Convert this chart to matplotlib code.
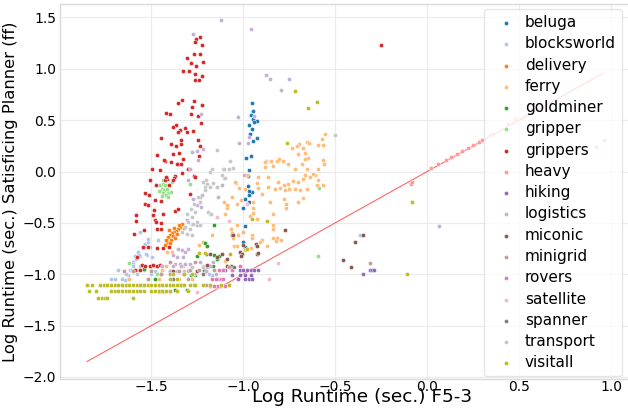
import matplotlib
matplotlib.use("Agg")
import matplotlib.pyplot as plt

domains = ["beluga", "blocksworld", "delivery", "ferry", "goldminer", "gripper",
           "grippers", "heavy", "hiking", "logistics", "miconic", "minigrid",
           "rovers", "satellite", "spanner", "transport", "visitall"]
colors = ["#1f77b4", "#aec7e8", "#ff7f0e", "#ffbb78", "#2ca02c", "#98df8a",
          "#d62728", "#ff9896", "#9467bd", "#c5b0d5", "#8c564b", "#c49c94",
          "#e377c2", "#f7b6d2", "#7f7f7f", "#c7c7c7", "#bcbd22"]

beluga_x = [-0.951, -0.946, -0.957, -0.946, -0.924, -0.940, -0.967, -0.951, -0.962, -0.924, -0.946,
            -0.957, -0.984, -0.967, -0.973, -0.973, -0.951, -0.967, -0.967, -0.989, -0.967, -1.000,
            -0.989, -1.000, -1.000, -0.989]
beluga_y = [0.667, 0.588, 0.549, 0.510, 0.490, 0.480, 0.451, 0.412, 0.363, 0.324, 0.294,
            0.147, 0.127, 0.010, -0.039, -0.137, -0.196, -0.186, -0.225, -0.265, -0.294, -0.353,
            -0.529, -0.588, -0.686, -0.735]

blocksworld_x = [-1.560, -1.533, -1.543, -1.571, -1.587, -1.560, -1.522, -1.495, -1.505, -1.516,
                 -1.527, -1.565, -1.582, -1.598, -1.598, -1.614, -1.603, -1.625, -1.652, -1.625,
                 -1.641, -1.516, -1.462, -0.364, -1.168, -1.185,
                 -1.70, -1.66, -1.62, -1.58, -1.64, -1.54, -1.48, -1.66, -1.72, -1.68,
                 -1.60, -1.56, -1.50, -1.45, -1.74, -1.52]
blocksworld_y = [-0.588, -0.706, -0.745, -0.784, -0.824, -0.824, -0.814, -0.833, -0.735, -0.686,
                 -0.804, -0.814, -0.853, -0.882, -0.902, -0.961, -0.961, -1.010, -1.049, -1.049,
                 -1.059, -0.657, -0.667, -0.618, -1.010, -1.000,
                 -1.05, -1.05, -1.05, -1.00, -1.00, -0.96, -0.97, -1.10, -1.05, -0.96,
                 -0.92, -0.92, -1.00, -0.92, -1.10, -1.05]

delivery_x = [-1.332, -1.342, -1.353, -1.364, -1.375, -1.386, -1.359, -1.397, -1.380, -1.408,
              -1.370, -1.391, -1.413, -1.397, -1.424, -1.348, -1.321, -1.402, -1.418, -1.375]
delivery_y = [-0.510, -0.539, -0.559, -0.578, -0.588, -0.598, -0.608, -0.618, -0.627, -0.637,
              -0.647, -0.667, -0.686, -0.696, -0.716, -0.520, -0.549, -0.569, -0.667, -0.549]

ferry_x = [-0.554, -0.571, -0.592, -0.565, -0.652, -0.641, -0.696, -0.707, -0.734, -0.674,
           -0.663, -0.701, -0.815, -0.804, -0.848, -0.875, -0.837, -0.783, -0.755, -0.679,
           -0.647, -0.663, -0.565, -0.560, -0.652, -0.592, -0.609, -0.636, -0.663, -0.674,
           -0.701, -0.728, -0.755, -0.777, -0.810, -0.864, -0.918, -0.924, -0.978, -1.038,
           -1.022, -0.989, -0.918, -0.864, -0.826, -0.799, -0.772, -0.750, -0.717, -0.690,
           -0.652, -0.592, -0.565, -0.598, -0.853, -0.766, -0.766, -0.946, -0.946, -0.946,
           -1.033, -1.011, -1.060, -1.103, -1.087, -0.924, -0.962, -0.837, -0.837, -0.837,
           -0.674, -1.065, -1.060, -1.054, -1.027, -1.000, -0.951, -0.951, -0.897, -0.908,
           -0.837, -0.815, -0.793, -0.821, -0.870, -0.929, -0.957, -1.049, -1.033, -1.168,
           -1.011, -0.989, -0.880, -1.043, -1.087, -1.098, -1.033, -1.217, -1.239, -1.201,
           -1.413, -1.386,
           -1.50, -1.44, -1.30, -1.20, -1.10, -1.62, -1.35, -1.28, -1.46, -1.52, -1.42, -1.33,
           -0.90, -0.72, -0.62, -0.78, -0.88, -0.70]
ferry_y = [0.363, 0.314, 0.255, 0.255, 0.284, 0.275, 0.265, 0.245, 0.225, 0.225,
           0.176, 0.167, 0.098, 0.118, 0.098, 0.098, 0.049, 0.098, 0.069, 0.069,
           0.127, 0.118, 0.108, 0.069, 0.020, 0.020, -0.029, -0.049, -0.029, -0.069,
           -0.098, -0.088, -0.118, -0.127, -0.098, -0.049, -0.049, -0.108, -0.029, -0.108,
           -0.157, -0.167, -0.157, -0.147, -0.167, -0.157, -0.176, -0.167, -0.167, -0.176,
           -0.167, -0.078, -0.127, -0.127, -0.294, -0.314, -0.353, -0.294, -0.353, -0.402,
           -0.314, -0.275, -0.245, -0.294, -0.353, -0.461, -0.431, -0.412, -0.520, -0.559,
           -0.255, -0.559, -0.598, -0.647, -0.618, -0.588, -0.618, -0.647, -0.667, -0.686,
           -0.647, -0.647, -0.667, -0.676, -0.725, -0.716, -0.745, -0.725, -0.725, -0.618,
           -0.804, -0.765, 0.088, -0.098, -0.324, -0.412, -0.520, -0.686, -0.716, -0.725,
           -0.784, -0.784,
           -0.96, -0.96, -0.96, -0.92, -0.87, -1.05, -1.05, -1.05, -1.05, -1.10, -0.92, -0.92,
           -0.22, 0.02, -0.02, -0.27, 0.04, -0.30]

goldminer_x = [-1.158, -1.207, -1.196, -1.250, -1.201, -1.158, -1.130, -1.185, -1.163, -1.283,
               -1.261, -1.266, -1.370, -1.342, -1.304, -1.212, -1.141, -1.54, -1.48, -1.40]
goldminer_y = [-0.520, -0.696, -0.725, -0.824, -0.804, -0.814, -0.824, -0.922, -0.922, -1.010,
               -1.010, -1.108, -1.157, -1.108, -1.157, -0.961, -0.853, -0.95, -1.05, -0.97]

gripper_x = [-1.451, -1.435, -1.424, -1.440, -1.429, -1.413, -1.457, -1.435, -1.408, -1.391,
             -1.418, -1.440, -1.408, -1.386, -1.435, -1.288, -0.587, -0.592, -1.62, -1.58, -1.47]
gripper_y = [-0.127, -0.118, -0.127, -0.167, -0.176, -0.167, -0.186, -0.206, -0.206, -0.196,
             -0.225, -0.235, -0.245, -0.098, -0.078, -0.118, -0.157, -0.824, -0.89, -0.96, -1.00]

grippers_x = [-1.234, -1.255, -1.261, -1.223, -1.266, -1.234, -1.304, -1.283, -1.217, -1.255,
              -1.326, -1.293, -1.261, -1.223, -1.261, -1.239, -1.332, -1.353, -1.266, -1.223,
              -1.277, -1.418, -1.397, -1.283, -1.245, -1.228, -1.364, -1.380, -1.342, -1.315,
              -1.272, -1.353, -1.304, -1.446, -1.337, -1.245, -1.391, -1.364, -1.234, -1.348,
              -1.467, -1.380, -1.239, -1.326, -1.424, -1.391, -1.353, -1.337, -1.293, -1.495,
              -1.451, -1.332, -1.266, -1.370, -1.375, -1.413, -1.424, -1.505,
              -1.337, -1.429, -1.359, -1.299, -1.418, -1.261, -1.380, -1.473, -1.402, -1.288,
              -1.533, -1.511, -1.478, -1.446, -1.533, -1.516, -1.484, -1.489, -1.435, -1.370,
              -1.353, -1.582, -1.582, -1.478, -1.473, -1.446, -1.467, -1.446, -1.592, -1.538,
              -1.543, -1.516, -1.467, -1.435, -1.402, -1.576, -1.549, -1.533, -1.505, -1.489,
              -1.467, -1.451, -1.587, -1.560, -0.250]
grippers_y = [1.314, 1.294, 1.265, 1.235, 1.147, 1.147, 1.108, 1.059, 1.069, 1.029,
              0.980, 0.980, 0.951, 0.931, 0.892, 0.892, 0.696, 0.667, 0.686, 0.647,
              0.627, 0.569, 0.559, 0.559, 0.539, 0.471, 0.451, 0.431, 0.402, 0.422,
              0.392, 0.382, 0.382, 0.324, 0.304, 0.304, 0.265, 0.245, 0.245, 0.176,
              0.157, 0.167, 0.147, 0.118, 0.098, 0.088, 0.078, 0.069, 0.029, 0.020,
              0.010, -0.010, -0.039, -0.039, -0.059, -0.069, -0.078, -0.078,
              0.265, 0.108, 0.069, 0.029, -0.049, -0.049, -0.078, -0.127, -0.127, -0.216,
              -0.206, -0.225, -0.275, -0.284, -0.314, -0.324, -0.373, -0.422, -0.412, -0.382,
              -0.363, -0.422, -0.480, -0.471, -0.490, -0.500, -0.559, -0.559, -0.608, -0.569,
              -0.735, -0.735, -0.745, -0.745, -0.735, -0.833, -0.912, -0.922, -0.922, -0.912,
              -0.922, -0.912, -0.961, -0.961, 1.235]

heavy_x = [-0.09, -0.08, 0.02, 0.06, 0.10, 0.13, 0.16, 0.19, 0.22, 0.25, 0.28, 0.30, 0.34, 0.36,
           0.44, 0.48, 0.92, 0.96]
heavy_y = [-0.12, -0.10, 0.03, 0.07, 0.11, 0.14, 0.17, 0.20, 0.23, 0.26, 0.29, 0.31, 0.36, 0.37,
           0.46, 0.51, 0.24, 0.31]

hiking_x = [-1.02, -1.00, -0.98, -0.96, -0.94, -0.92, -1.02, -0.99, -0.96, -1.03, -0.99, -0.97,
            -0.95, -0.35, -0.31, -0.30, -0.29, -1.10, -1.06]
hiking_y = [-0.96, -0.96, -0.96, -0.96, -0.96, -0.96, -1.01, -1.01, -1.01, -1.05, -1.05, -1.05,
            -1.05, -1.00, -0.96, -0.96, -0.96, -0.96, -1.01]

logistics_x = [-1.120, -0.957, -1.272, -0.875, -0.853, -0.750, -0.793, -1.027, -0.940, -1.228,
               -0.967, -1.022, -0.973, -1.277, -1.217, -1.250, -1.245, -1.109, -1.103, -0.995,
               -1.299, -1.288, -1.136, -1.179, -1.228, -1.223, -1.272, -1.234, -1.250, -1.304,
               -1.277, -1.250, -1.353, -1.332, -1.315, -1.299, -1.380, -1.359, -1.326, -1.397,
               -1.370, -1.342, -1.315, -1.288, -1.234, -1.196, -1.163, -1.114, -1.141, 0.065,
               -1.40, -1.36, -1.30, -1.25, -1.20, -1.33, -1.27, -1.15,
               -1.44, -1.38, -1.34, -1.22, -1.18]
logistics_y = [1.471, 1.392, 1.343, 0.941, 0.902, 0.902, 0.794, 0.529, 0.539, 0.559,
               0.333, 0.275, 0.275, 0.186, 0.216, 0.196, 0.108, 0.029, -0.059, -0.029,
               -0.078, 0.020, -0.245, -0.412, -0.343, -0.225, -0.265, -0.245, -0.324, -0.471,
               -0.510, -0.520, -0.755, -0.765, -0.784, -0.755, -0.814, -0.833, -0.833, -0.882,
               -0.902, -0.902, -0.902, -0.902, -0.882, -0.931, -0.882, -0.127, -0.147, -0.529,
               -0.97, -0.97, -0.97, -0.97, -0.97, -1.00, -1.00, -1.00,
               -0.92, -0.92, -0.92, -0.92, -0.92]

miconic_x = [-0.772, -0.929, -0.924, -0.924, -0.348, -0.391, -0.457, -0.413, -1.060, -1.016,
             -1.005, -0.918, -1.141, -1.087, -1.065, -1.000, -1.011, -1.114, -1.087, -1.196,
             -1.054, -1.179, -1.45, -1.38, -1.32, -1.25]
miconic_y = [-0.569, -0.706, -0.725, -0.804, -0.618, -0.686, -0.863, -0.931, -0.618, -0.784,
             -0.804, -0.794, -0.833, -0.922, -0.922, -0.716, -0.824, -0.804, -0.853, -0.912,
             -0.618, -0.804, -1.00, -0.97, -1.00, -0.97]

minigrid_x = [-1.65, -1.60, -1.50, -1.45, -1.40, -1.35, -1.29, -1.24, -1.16, -1.11,
              -1.08, -1.17, -1.14, -1.30, -1.55, -1.52, -1.20, -0.31, -1.40, -1.26]
minigrid_y = [-0.97, -0.97, -0.97, -1.00, -1.00, -0.97, -0.96, -0.96, -0.96, -0.96,
              -0.93, -1.05, -1.05, -1.05, -1.10, -1.05, -1.10, -0.89, -0.88, -0.88]

rovers_x = [-1.02, -1.06, -1.11, -1.13, -1.17, -1.15, -1.12, -1.11, -1.18, -1.16, -1.14, -1.12, -1.10]
rovers_y = [-0.92, -0.96, -0.96, -0.96, -1.05, -1.05, -1.05, -1.05, -1.11, -1.11, -1.11, -1.11, -1.11]

satellite_x = [-0.978, -0.81, -0.86, -1.076, -1.141, -1.46, -1.43, -1.40, -1.25]
satellite_y = [-0.314, -0.89, -1.05, -0.480, -0.441, -1.17, -1.17, -1.17, -1.17]

spanner_x = [-1.38, -1.33, -1.22, -1.05]
spanner_y = [-1.05, -1.10, -1.00, -0.93]

transport_x = [-0.500, -1.141, -1.071, -1.054, -1.076, -1.103, -1.168, -1.179, -1.114, -1.098,
               -1.201, -1.163, -1.207, -1.141, -1.196, -1.217, -1.179, -1.207, -1.245, -1.234,
               -1.266, -1.283, -1.261, -1.304, -1.277, -1.299, -1.272, -1.315, -1.288, -1.250,
               -1.234, -1.332, -1.304, -1.277, -1.190, -1.174, -1.28, -1.22, -1.32]
transport_y = [0.353, 0.206, 0.098, 0.039, 0.020, 0.029, 0.029, 0.000, -0.029, -0.059,
               -0.078, -0.108, -0.147, -0.147, -0.118, -0.098, -0.147, -0.176, -0.245, -0.294,
               -0.314, -0.363, -0.392, -0.412, -0.441, -0.490, -0.510, -0.539, -0.559, -0.490,
               -0.520, -0.588, -0.608, -0.618, -0.392, -0.412, -0.93, -0.93, -0.97]

visitall_x = [-1.85, -1.82, -1.78, -1.76, -1.74, -1.72, -1.70, -1.68, -1.66, -1.64, -1.62, -1.60,
              -1.58, -1.56, -1.54, -1.52, -1.50, -1.48, -1.46, -1.44, -1.42, -1.40, -1.38, -1.36,
              -1.34, -1.32, -1.29, -1.26, -1.22, -1.18, -1.12, -1.08,
              -1.84, -1.80, -1.72, -1.70, -1.68, -1.66, -1.64, -1.62, -1.60, -1.58, -1.56, -1.54,
              -1.50, -1.48, -1.46, -1.44, -1.42, -1.40, -1.36, -1.30,
              -1.79, -1.77, -1.75, -1.74, -1.60,
              -1.40, -1.36, -1.32, -1.28, -1.38, -1.24, -1.21, -1.07, -0.72, -0.60, -0.65, -0.76,
              -0.87, -0.95, -0.98, -0.08, -0.11]
visitall_y = [-1.10, -1.10, -1.10, -1.10, -1.10, -1.10, -1.10, -1.10, -1.10, -1.10, -1.10, -1.10,
              -1.10, -1.10, -1.10, -1.10, -1.10, -1.10, -1.10, -1.10, -1.10, -1.10, -1.10, -1.10,
              -1.10, -1.10, -1.10, -1.10, -1.10, -1.10, -1.10, -1.10,
              -1.16, -1.16, -1.16, -1.16, -1.16, -1.16, -1.16, -1.16, -1.16, -1.16, -1.16, -1.16,
              -1.16, -1.16, -1.16, -1.16, -1.16, -1.16, -1.16, -1.16,
              -1.23, -1.23, -1.23, -1.23, -1.23,
              -1.05, -1.05, -1.00, -1.00, -1.00, -0.79, -0.79, -0.80, 0.78, 0.68, 0.62, 0.28,
              -0.48, -0.46, -0.75, -0.30, -1.00]

series_x = [beluga_x, blocksworld_x, delivery_x, ferry_x, goldminer_x, gripper_x, grippers_x,
            heavy_x, hiking_x, logistics_x, miconic_x, minigrid_x, rovers_x, satellite_x,
            spanner_x, transport_x, visitall_x]
series_y = [beluga_y, blocksworld_y, delivery_y, ferry_y, goldminer_y, gripper_y, grippers_y,
            heavy_y, hiking_y, logistics_y, miconic_y, minigrid_y, rovers_y, satellite_y,
            spanner_y, transport_y, visitall_y]

fig = plt.figure(figsize=(6.28, 4.08), dpi=100)
# axes extends a little past the right edge of the figure, as in the reference
ax = fig.add_axes([0.096, 0.071, 0.962, 0.919])

for name, c, xs, ys in zip(domains, colors, series_x, series_y):
    ax.scatter(xs, ys, s=9, color=c, edgecolors="white", linewidths=0.3, label=name, zorder=3)

all_x = [v for xs in series_x for v in xs]
lo, hi = min(all_x), max(all_x)
ax.plot([lo, hi], [lo, hi], color="red", alpha=0.6, linewidth=0.8, zorder=2)

ax.set_xlim(-1.995, 1.29)
ax.set_ylim(-2.02, 1.63)
ax.set_xticks([-1.5, -1.0, -0.5, 0.0, 0.5, 1.0])
ax.set_yticks([-2.0, -1.5, -1.0, -0.5, 0.0, 0.5, 1.0, 1.5])
ax.grid(True, color="#ebebeb", linewidth=0.8, zorder=0)
ax.set_axisbelow(True)
for sp in ax.spines.values():
    sp.set_color("#d9d9d9")
    sp.set_linewidth(1.0)
ax.tick_params(axis="x", length=0, labelsize=10, pad=0.5)
ax.tick_params(axis="y", length=0, labelsize=10, pad=3)
ax.set_xlabel("Log Runtime (sec.) F5-3", fontsize=13.3, labelpad=-4)
ax.set_ylabel("Log Runtime (sec.) Satisficing Planner (ff)", fontsize=11.8, labelpad=3)

leg = ax.legend(loc="upper right", fontsize=11, markerscale=1.0, framealpha=0.8,
                edgecolor="#e0e0e0", borderaxespad=0.0, handletextpad=0.26, labelspacing=0.41,
                bbox_to_anchor=(622 / 628, 1 - 9 / 408), bbox_transform=fig.transFigure)

fig.savefig("out.png", dpi=100)
